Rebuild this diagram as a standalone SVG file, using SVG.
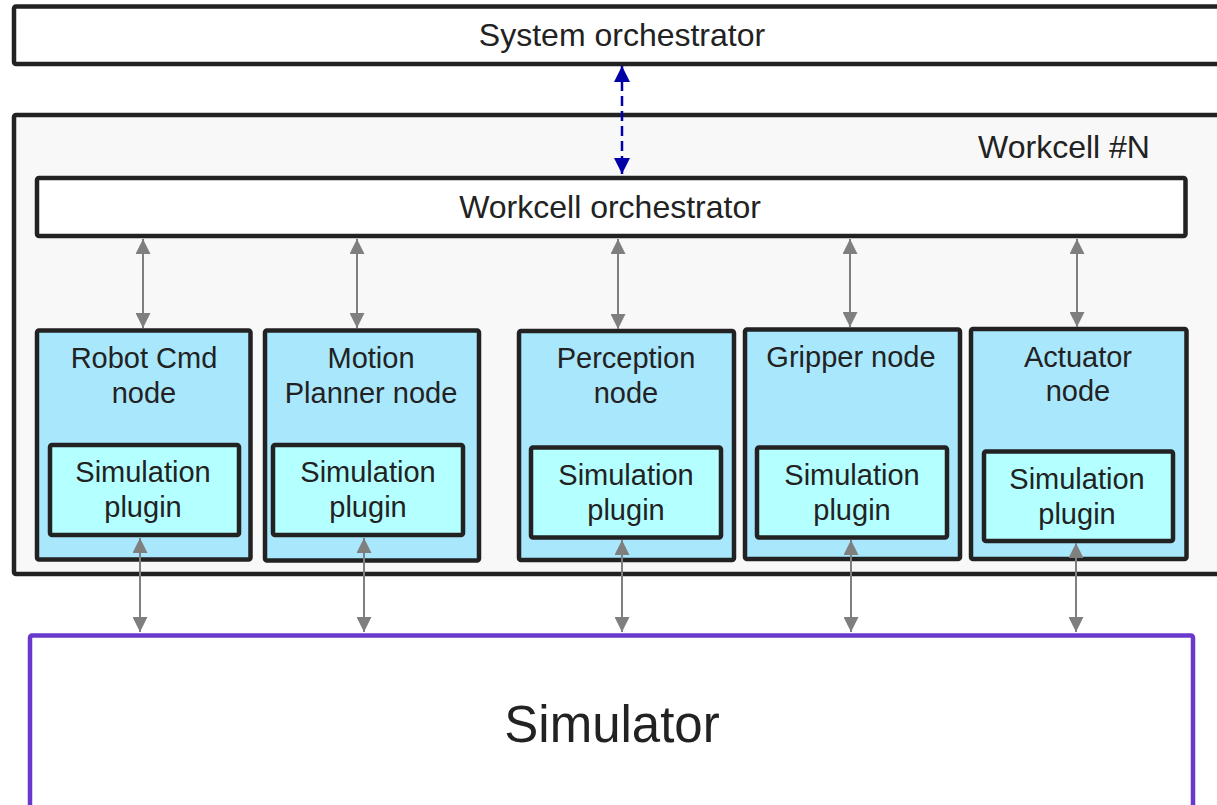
<svg xmlns="http://www.w3.org/2000/svg" width="1217" height="805" viewBox="0 0 1217 805">
  <style>
    text { font-family: "Liberation Sans", Arial, sans-serif; fill: #222222; text-anchor: middle; }
    .frame { fill: #ffffff; stroke: #222222; stroke-width: 4.5; }
    .cell { fill: #f8f8f8; stroke: #222222; stroke-width: 4.5; }
    .node { fill: #a9e7fc; stroke: #222222; stroke-width: 4.5; }
    .plugin { fill: #b4ffff; stroke: #222222; stroke-width: 4.5; }
    .sim { fill: #ffffff; stroke: #6a38cc; stroke-width: 4.5; }
    .big { font-size: 32px; }
    .lbl { font-size: 29px; }
    .link { stroke: #7f7f7f; stroke-width: 2; fill: none; marker-start: url(#grayHead); marker-end: url(#grayHead); }
    .ctrl { stroke: #0000a6; stroke-width: 2.5; fill: none; stroke-dasharray: 10 5; marker-start: url(#blueHead); marker-end: url(#blueHead); }
  </style>
  <defs>
    <marker id="grayHead" markerUnits="userSpaceOnUse" markerWidth="15" markerHeight="15" refX="15" refY="7.5" orient="auto-start-reverse">
      <path d="M0,0 L15,7.5 L0,15 z" fill="#7f7f7f"/>
    </marker>
    <marker id="blueHead" markerUnits="userSpaceOnUse" markerWidth="16" markerHeight="16" refX="16" refY="8" orient="auto-start-reverse">
      <path d="M0,0 L16,8 L0,16 z" fill="#0000a6"/>
    </marker>
  </defs>

  <rect width="1217" height="805" fill="#ffffff"/>

  <!-- top-level orchestrator -->
  <g id="system-orchestrator">
    <rect class="frame" x="14" y="6.5" width="1220" height="57.5" rx="2"/>
    <text class="big" x="622" y="46">System orchestrator</text>
  </g>

  <!-- workcell container -->
  <g id="workcell">
    <rect class="cell" x="14" y="115" width="1220" height="459" rx="2"/>
    <text class="big" x="1064" y="158">Workcell #N</text>
  </g>

  <g id="workcell-orchestrator">
    <rect class="frame" x="37" y="178" width="1148.5" height="58" rx="2"/>
    <text class="big" x="610" y="218">Workcell orchestrator</text>
  </g>

  <g id="robot-cmd-node">
    <rect class="node" x="37" y="330.5" width="213.5" height="229" rx="2"/>
    <text class="lbl" x="144" y="368">Robot Cmd</text>
    <text class="lbl" x="144" y="403">node</text>
    <rect class="plugin" x="50" y="445" width="189" height="90" rx="2"/>
    <text class="lbl" x="143" y="482">Simulation</text>
    <text class="lbl" x="143" y="517">plugin</text>
  </g>

  <g id="motion-planner-node">
    <rect class="node" x="265" y="330.5" width="214" height="230" rx="2"/>
    <text class="lbl" x="371" y="368">Motion</text>
    <text class="lbl" x="371" y="403">Planner node</text>
    <rect class="plugin" x="273" y="445" width="190" height="90" rx="2"/>
    <text class="lbl" x="368" y="482">Simulation</text>
    <text class="lbl" x="368" y="517">plugin</text>
  </g>

  <g id="perception-node">
    <rect class="node" x="519" y="331" width="215" height="229" rx="2"/>
    <text class="lbl" x="626" y="368">Perception</text>
    <text class="lbl" x="626" y="403">node</text>
    <rect class="plugin" x="531" y="447.5" width="190" height="90" rx="2"/>
    <text class="lbl" x="626" y="485">Simulation</text>
    <text class="lbl" x="626" y="520">plugin</text>
  </g>

  <g id="gripper-node">
    <rect class="node" x="745" y="329.5" width="215" height="229.5" rx="2"/>
    <text class="lbl" x="851" y="367">Gripper node</text>
    <rect class="plugin" x="757" y="447.5" width="190" height="90" rx="2"/>
    <text class="lbl" x="852" y="485">Simulation</text>
    <text class="lbl" x="852" y="520">plugin</text>
  </g>

  <g id="actuator-node">
    <rect class="node" x="971" y="329" width="215.5" height="230" rx="2"/>
    <text class="lbl" x="1078" y="367">Actuator</text>
    <text class="lbl" x="1078" y="401">node</text>
    <rect class="plugin" x="984" y="451.5" width="189" height="89.5" rx="2"/>
    <text class="lbl" x="1077" y="489">Simulation</text>
    <text class="lbl" x="1077" y="524">plugin</text>
  </g>

  <g id="simulator">
    <rect class="sim" x="30" y="635.5" width="1163" height="200" rx="2"/>
    <text x="612" y="742" style="font-size:51px">Simulator</text>
  </g>

  <!-- connectors -->
  <g id="connectors">
    <path class="ctrl" d="M622,66 L622,174"/>
    <path class="link" d="M143,239 L143,328"/>
    <path class="link" d="M357,239 L357,328"/>
    <path class="link" d="M618,239 L618,329"/>
    <path class="link" d="M850,239 L850,327"/>
    <path class="link" d="M1077,239 L1077,327"/>
    <path class="link" d="M140,538 L140,632"/>
    <path class="link" d="M364,538 L364,632"/>
    <path class="link" d="M622,540 L622,632"/>
    <path class="link" d="M851,540 L851,632"/>
    <path class="link" d="M1076,543 L1076,632"/>
  </g>
</svg>
